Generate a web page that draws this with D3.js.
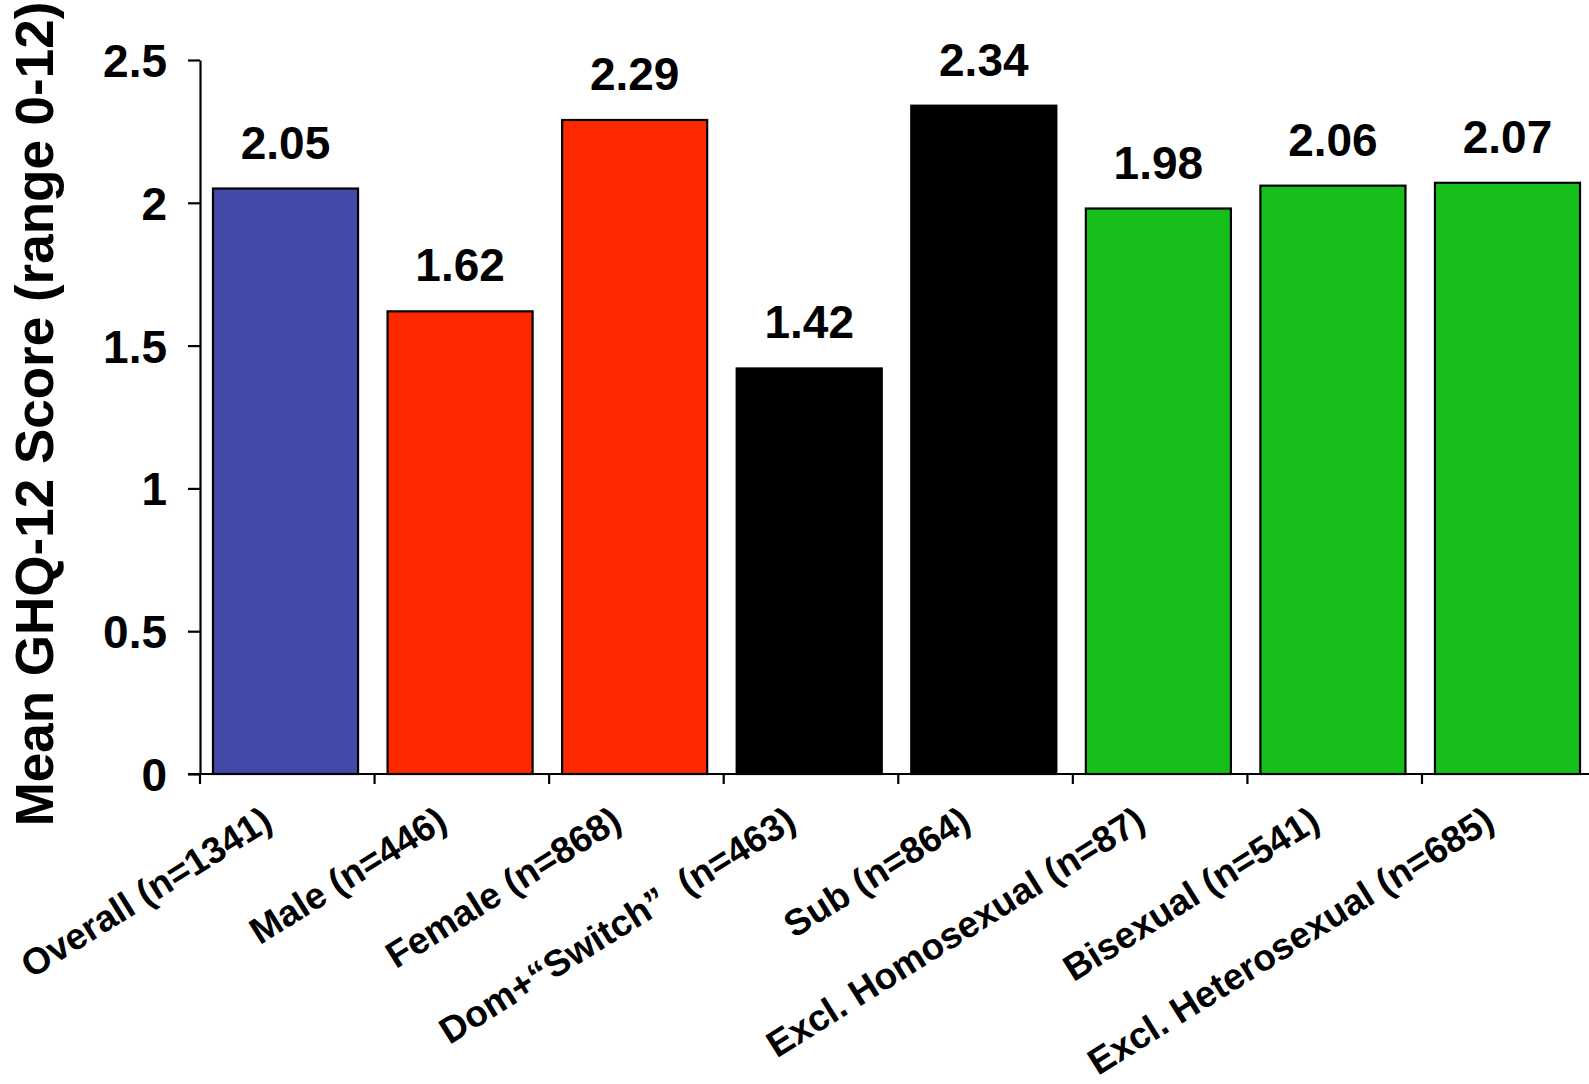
<!DOCTYPE html>
<html>
<head>
<meta charset="utf-8">
<script src="https://cdn.jsdelivr.net/npm/d3@7"></script>
<style>
  html, body { margin: 0; padding: 0; background: #fff; }
  svg { display: block; font-family: "Liberation Sans", Arial, Helvetica, sans-serif; font-weight: bold; }
</style>
</head>
<body>
<svg id="chart" width="1589" height="1084"></svg>
<script>
const categories = [
  "Overall (n=1341)",
  "Male (n=446)",
  "Female (n=868)",
  "Dom+\u201CSwitch\u201D  (n=463)",
  "Sub (n=864)",
  "Excl. Homosexual (n=87)",
  "Bisexual (n=541)",
  "Excl. Heterosexual (n=685)"
];
const values = [2.05, 1.62, 2.29, 1.42, 2.34, 1.98, 2.06, 2.07];
const valueLabels = ["2.05", "1.62", "2.29", "1.42", "2.34", "1.98", "2.06", "2.07"];
const groups = ["overall", "gender", "gender", "role", "role", "orient", "orient", "orient"];
const yTicks = [0, 0.5, 1, 1.5, 2, 2.5];
const yTickLabels = ["0", "0.5", "1", "1.5", "2", "2.5"];
const yTitle = "Mean GHQ-12 Score (range 0-12)";

const colors = { overall: "#4448A8", gender: "#FF2900", role: "#000000", orient: "#17BF1B" };

const svg = d3.select("#chart");
const x0 = 200, step = 174.57, y0 = 774, yTop = 60;

const x = d3.scaleBand()
  .domain(categories)
  .range([x0, x0 + step * categories.length])
  .paddingInner(0.169)
  .paddingOuter(0.0845)
  .align(0.44);

const y = d3.scaleLinear().domain([0, 2.5]).range([y0, yTop]);

// Bars
svg.append("g").selectAll("rect")
  .data(categories)
  .join("rect")
  .attr("x", d => x(d))
  .attr("y", (d, i) => y(values[i]))
  .attr("width", x.bandwidth())
  .attr("height", (d, i) => y(0) - y(values[i]))
  .attr("fill", (d, i) => colors[groups[i]])
  .attr("stroke", "#000")
  .attr("stroke-width", 2.2);

// Value labels
svg.append("g").selectAll("text")
  .data(categories)
  .join("text")
  .attr("x", d => x(d) + x.bandwidth() / 2)
  .attr("y", (d, i) => y(values[i]) - 30)
  .attr("text-anchor", "middle")
  .attr("font-size", 46)
  .attr("fill", "#000")
  .text((d, i) => valueLabels[i]);

// Y axis
const yAxis = d3.axisLeft(y)
  .tickValues(yTicks)
  .tickFormat((d, i) => yTickLabels[i])
  .tickSize(12)
  .tickSizeOuter(0)
  .tickPadding(21);
const gy = svg.append("g").attr("transform", `translate(${x0},0)`).call(yAxis);
gy.select(".domain").attr("stroke", "#000").attr("stroke-width", 2.2);
gy.selectAll(".tick line").attr("stroke", "#000").attr("stroke-width", 2.2);
gy.selectAll(".tick text")
  .attr("font-size", 46)
  .attr("font-family", "Liberation Sans, Arial, sans-serif")
  .attr("font-weight", "bold")
  .attr("fill", "#000")
  .attr("dy", "0.36em");

// X axis baseline
const boundaries = d3.range(categories.length + 1).map(i => x.range()[0] + i * x.step());
svg.append("line")
  .attr("x1", x0 - 12).attr("x2", boundaries[boundaries.length - 1])
  .attr("y1", y(0)).attr("y2", y(0))
  .attr("stroke", "#000").attr("stroke-width", 2.2);
svg.append("g").selectAll("line")
  .data(boundaries)
  .join("line")
  .attr("x1", d => d).attr("x2", d => d)
  .attr("y1", y(0)).attr("y2", y(0) + 10)
  .attr("stroke", "#000").attr("stroke-width", 2.2);

// X labels
svg.append("g").selectAll("text")
  .data(categories)
  .join("text")
  .attr("transform", d => `translate(${x(d) + x.bandwidth() / 2 - 11},${y(0) + 53}) rotate(-32)`)
  .attr("text-anchor", "end")
  .attr("font-size", 37)
  .attr("fill", "#000")
  .style("white-space", "pre")
  .text(d => d);

// Y title
svg.append("text")
  .attr("transform", `translate(53,414) rotate(-90)`)
  .attr("text-anchor", "middle")
  .attr("font-size", 53)
  .attr("fill", "#000")
  .text(yTitle);
</script>
</body>
</html>
